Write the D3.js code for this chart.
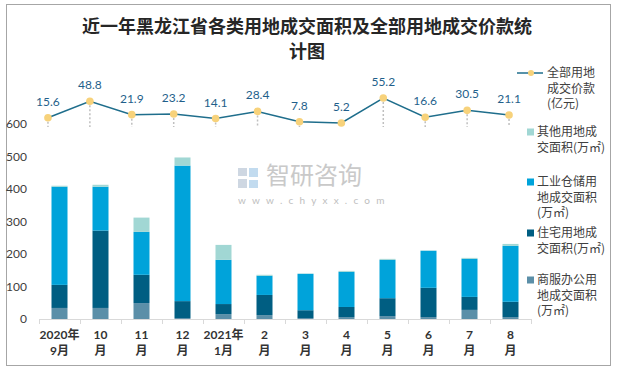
<!DOCTYPE html>
<html>
<head>
<meta charset="utf-8">
<script src="https://cdn.jsdelivr.net/npm/d3@7/dist/d3.min.js"></script>
<style>
  html, body { margin: 0; padding: 0; background: #fff; }
  svg { display: block; font-family: Lato, "Noto Sans CJK SC", sans-serif; }
</style>
</head>
<body>
<div id="chart"></div>
<script>
// months along the x axis (two text lines each)
const months = [
  ['2020年', '9月'], ['10', '月'], ['11', '月'], ['12', '月'],
  ['2021年', '1月'], ['2', '月'], ['3', '月'], ['4', '月'],
  ['5', '月'], ['6', '月'], ['7', '月'], ['8', '月']
];

// land area sold, 万㎡ (stack order bottom -> top)
const commercial = [34, 34, 49, 3, 15, 12, 3, 6, 9, 6, 28, 6];
const residential = [71, 238, 87, 52, 31, 62, 24, 31, 55, 90, 40, 47];
const industrial = [302, 135, 132, 417, 136, 59, 112, 108, 118, 114, 117, 172];
const other = [3, 6, 44, 25, 46, 3, 1, 3, 3, 1, 3, 6];

// total land price, 亿元
const price = [15.6, 48.8, 21.9, 23.2, 14.1, 28.4, 7.8, 5.2, 55.2, 16.6, 30.5, 21.1];

const yTicks = [0, 100, 200, 300, 400, 500, 600];

const seriesKeys = ['commercial', 'residential', 'industrial', 'other'];
const seriesColors = {
  commercial: '#5b8fa8',
  residential: '#005e82',
  industrial: '#00a3da',
  other: '#a1d7d4'
};

const legendItems = [
  { key: 'price', lines: ['全部用地', '成交价款', '(亿元)'] },
  { key: 'other', lines: ['其他用地成', '交面积(万㎡)'] },
  { key: 'industrial', lines: ['工业仓储用', '地成交面积', '(万㎡)'] },
  { key: 'residential', lines: ['住宅用地成', '交面积(万㎡)'] },
  { key: 'commercial', lines: ['商服办公用', '地成交面积', '(万㎡)'] }
];

const W = 617, H = 371;
const svg = d3.select('#chart').append('svg')
  .attr('width', W).attr('height', H);

// outer frame
svg.append('rect')
  .attr('x', 6.5).attr('y', 4.5).attr('width', 604).attr('height', 361)
  .attr('fill', '#fff').attr('stroke', '#a6a6a6').attr('stroke-width', 1);

// title
const title = svg.append('text')
  .attr('text-anchor', 'middle')
  .attr('font-family', '"Noto Sans CJK SC", sans-serif')
  .attr('font-weight', 'bold')
  .attr('font-size', 18)
  .attr('fill', '#262626');
title.append('tspan').attr('x', 307).attr('y', 33).text('近一年黑龙江省各类用地成交面积及全部用地成交价款统');
title.append('tspan').attr('x', 307).attr('y', 58).text('计图');

// watermark (logo + site name)
const wm = svg.append('g').attr('opacity', 0.9);
wm.append('rect').attr('x', 238).attr('y', 168).attr('width', 9).attr('height', 8).attr('fill', '#c9d3df');
wm.append('rect').attr('x', 238).attr('y', 179).attr('width', 9).attr('height', 9).attr('fill', '#c9d3df');
wm.append('rect').attr('x', 249).attr('y', 168).attr('width', 9).attr('height', 9).attr('fill', '#bcd8ee');
wm.append('rect').attr('x', 249).attr('y', 180).attr('width', 9).attr('height', 8).attr('fill', '#bcd8ee');
wm.append('text')
  .attr('x', 266).attr('y', 184)
  .attr('font-family', '"Noto Sans CJK SC", sans-serif')
  .attr('font-size', 24).attr('fill', '#c4c4c4')
  .text('智研咨询');
wm.append('text')
  .attr('x', 238).attr('y', 204)
  .attr('font-size', 10).attr('fill', '#b8b8b8')
  .attr('letter-spacing', 6.2)
  .text('www.chyxx.com');

// scales
const x = d3.scaleBand().domain(d3.range(months.length)).range([39, 531]);
const xLine = d3.scaleBand().domain(d3.range(months.length)).range([27, 530]);
const y = d3.scaleLinear().domain([0, 600]).range([319, 124]);
const yLine = d3.scaleLinear().domain([0, 60]).range([125.6, 95.6]);
const barW = 16;

// y axis labels
svg.append('g')
  .selectAll('text')
  .data(yTicks)
  .join('text')
  .attr('x', 27)
  .attr('y', d => y(d))
  .attr('dy', '0.35em')
  .attr('text-anchor', 'end')
  .attr('font-size', 12)
  .attr('fill', '#404040')
  .text(d => d);

// stacked bars
const rows = months.map((m, i) => ({
  i,
  commercial: commercial[i],
  residential: residential[i],
  industrial: industrial[i],
  other: other[i]
}));
const stacked = d3.stack().keys(seriesKeys)(rows);

svg.append('g')
  .selectAll('g')
  .data(stacked)
  .join('g')
  .attr('fill', d => seriesColors[d.key])
  .selectAll('rect')
  .data(d => d)
  .join('rect')
  .attr('x', d => x(d.data.i) + x.bandwidth() / 2 - barW / 2)
  .attr('width', barW)
  .attr('y', d => y(d[1]))
  .attr('height', d => y(d[0]) - y(d[1]));

// x axis
const xAxis = svg.append('g');
xAxis.append('line')
  .attr('x1', x.range()[0]).attr('x2', x.range()[1])
  .attr('y1', 319.5).attr('y2', 319.5)
  .attr('stroke', '#d9d9d9');
xAxis.selectAll('.tick')
  .data(d3.range(months.length + 1))
  .join('line')
  .attr('class', 'tick')
  .attr('x1', d => Math.round(x.range()[0] + d * x.step()) + 0.5)
  .attr('x2', d => Math.round(x.range()[0] + d * x.step()) + 0.5)
  .attr('y1', 319).attr('y2', 324)
  .attr('stroke', '#d9d9d9');
const xl = xAxis.selectAll('.xlabel')
  .data(months)
  .join('text')
  .attr('class', 'xlabel')
  .attr('text-anchor', 'middle')
  .attr('font-size', 12)
  .attr('font-weight', 'bold')
  .attr('fill', '#333');
xl.append('tspan')
  .attr('x', (d, i) => x(i) + x.bandwidth() / 2)
  .attr('y', 339)
  .text(d => d[0]);
xl.append('tspan')
  .attr('x', (d, i) => x(i) + x.bandwidth() / 2)
  .attr('y', 355)
  .text(d => d[1]);

// price line
const lineG = svg.append('g');
const px = i => xLine(i) + xLine.bandwidth() / 2;

lineG.selectAll('.drop')
  .data(price)
  .join('line')
  .attr('class', 'drop')
  .attr('x1', (d, i) => px(i)).attr('x2', (d, i) => px(i))
  .attr('y1', d => yLine(d)).attr('y2', yLine(0) + 1.5)
  .attr('stroke', '#bfbfbf')
  .attr('stroke-width', 1.5)
  .attr('stroke-dasharray', '2,2');

lineG.append('path')
  .datum(price)
  .attr('fill', 'none')
  .attr('stroke', '#1f6e8c')
  .attr('stroke-width', 1.5)
  .attr('d', d3.line().x((d, i) => px(i)).y(d => yLine(d)));

lineG.selectAll('circle')
  .data(price)
  .join('circle')
  .attr('cx', (d, i) => px(i))
  .attr('cy', d => yLine(d))
  .attr('r', 3.8)
  .attr('fill', '#f7d27b');

lineG.selectAll('.val')
  .data(price)
  .join('text')
  .attr('class', 'val')
  .attr('x', (d, i) => px(i))
  .attr('y', d => yLine(d) - 12)
  .attr('text-anchor', 'middle')
  .attr('font-size', 12)
  .attr('fill', '#1f5f8b')
  .text(d => d3.format('.1f')(d));

// legend
const legendTop = [73, 132, 182, 233, 280];
const legend = svg.append('g');
legendItems.forEach((item, k) => {
  const g = legend.append('g');
  const yy = legendTop[k];
  if (item.key === 'price') {
    g.append('line')
      .attr('x1', 517).attr('x2', 543)
      .attr('y1', yy).attr('y2', yy)
      .attr('stroke', '#1f6e8c').attr('stroke-width', 1.5);
    g.append('circle').attr('cx', 531).attr('cy', yy).attr('r', 3).attr('fill', '#f7d27b');
  } else {
    g.append('rect')
      .attr('x', 527).attr('y', yy - 3.5)
      .attr('width', 7).attr('height', 7)
      .attr('fill', seriesColors[item.key]);
  }
  const tx = item.key === 'price' ? 547 : 537;
  item.lines.forEach((s, j) => {
    g.append('text')
      .attr('x', tx)
      .attr('y', yy + j * 15.5)
      .attr('dy', '0.35em')
      .attr('font-family', '"Noto Sans CJK SC", sans-serif')
      .attr('font-size', 12)
      .attr('fill', '#404040')
      .text(s);
  });
});
</script>
</body>
</html>
